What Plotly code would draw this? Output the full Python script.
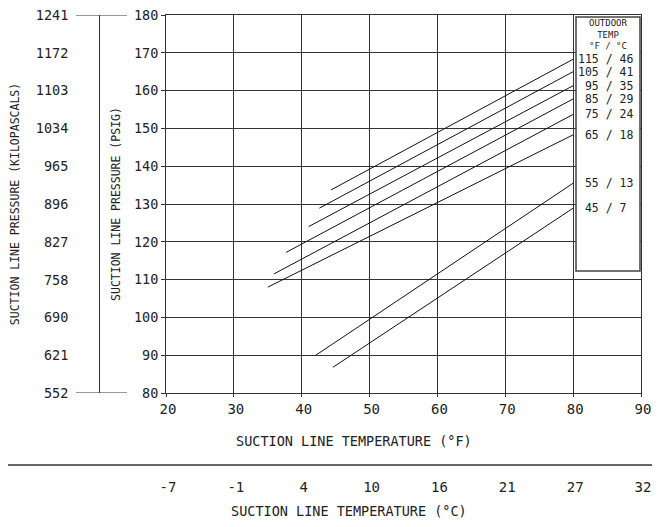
import plotly.graph_objects as go

# ---------------- data ----------------
outdoor_f = [115, 105, 95, 85, 75, 65, 55, 45]
outdoor_c = [46, 41, 35, 29, 24, 18, 13, 7]
start_temp_f = [44.3, 42.6, 41.0, 37.7, 35.9, 35.0, 42.0, 44.6]
start_psig = [133.7, 128.9, 124.0, 117.2, 111.5, 108.0, 89.9, 86.8]
end_temp_f = [80, 80, 80, 80, 80, 80, 80, 80]
end_psig = [168.3, 165.0, 161.3, 157.8, 153.7, 148.3, 135.5, 128.9]

psig_ticks = [80, 90, 100, 110, 120, 130, 140, 150, 160, 170, 180]
kpa_ticks = [552, 621, 690, 758, 827, 896, 965, 1034, 1103, 1172, 1241]
temp_f_ticks = [20, 30, 40, 50, 60, 70, 80, 90]
temp_c_labels = ["-7", "-1", "4", "10", "16", "21", "27", "32"]

PSI_TO_KPA = 6.89476

# ---------------- style ----------------
FONT = "DejaVu Sans Mono"
INK = "#222222"
GRID = "#333333"
OFF = 8  # page body margin
W, H = 660 - OFF, 527 - 2 * OFF


def px_x(p):
    """screen x pixel -> paper fraction"""
    return (p - OFF) / W


def px_y(p):
    """screen y pixel -> paper fraction"""
    return 1 - (p - OFF) / H


psig_range = [psig_ticks[0], psig_ticks[-1]]
kpa_range = [psig_range[0] * PSI_TO_KPA, psig_range[1] * PSI_TO_KPA]
f_range = [temp_f_ticks[0], temp_f_ticks[-1]]

fig = go.Figure()
for i in range(len(outdoor_f)):
    fig.add_trace(go.Scatter(
        x=[start_temp_f[i], end_temp_f[i]],
        y=[start_psig[i], end_psig[i]],
        mode="lines",
        line=dict(color="#111111", width=1),
        showlegend=False,
        hoverinfo="skip",
    ))

# invisible carriers so the secondary (kPa / deg C) scales are drawn
fig.add_trace(go.Scatter(x=[f_range[0], f_range[0]], y=kpa_range,
                         xaxis="x", yaxis="y2", mode="lines",
                         line=dict(width=0), opacity=0,
                         showlegend=False, hoverinfo="skip"))
fig.add_trace(go.Scatter(x=f_range, y=[psig_range[0], psig_range[0]],
                         xaxis="x2", yaxis="y", mode="lines",
                         line=dict(width=0), opacity=0,
                         showlegend=False, hoverinfo="skip"))

fig.update_layout(
    width=W, height=H,
    margin=dict(l=0, r=0, t=0, b=0, autoexpand=False),
    paper_bgcolor="white", plot_bgcolor="white",
    font=dict(family=FONT, color=INK),
    showlegend=False,
    xaxis=dict(
        domain=[px_x(166), px_x(641)],
        range=f_range,
        tickvals=temp_f_ticks,
        showgrid=True, gridcolor=GRID, gridwidth=1,
        showline=True, mirror=True, linecolor=GRID, linewidth=1,
        ticks="outside", ticklen=3, tickcolor=GRID,
        tickfont=dict(size=14, family=FONT, color=INK),
        ticklabelshift=2, ticklabeloverflow="allow",
        zeroline=False, fixedrange=True,
    ),
    xaxis2=dict(
        overlaying="x", anchor="free", position=px_y(465), side="bottom",
        range=f_range,
        tickvals=temp_f_ticks, ticktext=temp_c_labels,
        showgrid=False, showline=False, ticks="", zeroline=False,
        tickfont=dict(size=14, family=FONT, color=INK),
        ticklabelstandoff=12, ticklabelshift=2, ticklabeloverflow="allow",
        fixedrange=True,
    ),
    yaxis=dict(
        domain=[px_y(393), px_y(15)],
        range=psig_range,
        tickvals=psig_ticks,
        showgrid=True, gridcolor=GRID, gridwidth=1,
        showline=True, mirror=True, linecolor=GRID, linewidth=1,
        ticks="outside", ticklen=4, tickcolor=GRID,
        tickfont=dict(size=13.5, family=FONT, color=INK),
        ticklabeloverflow="allow",
        title=dict(text="SUCTION LINE PRESSURE (PSIG)",
                   font=dict(size=11.5, family=FONT, color=INK), standoff=10),
        zeroline=False, fixedrange=True,
    ),
    yaxis2=dict(
        overlaying="y", anchor="free", position=px_x(99), side="left",
        range=kpa_range, tickvals=kpa_ticks,
        showgrid=False, showline=True, linecolor=GRID, linewidth=1,
        ticks="", zeroline=False,
        tickfont=dict(size=13.5, family=FONT, color=INK),
        ticklabelstandoff=28, ticklabeloverflow="allow",
        title=dict(text="SUCTION LINE PRESSURE (KILOPASCALS)",
                   font=dict(size=11.5, family=FONT, color=INK), standoff=12),
        fixedrange=True,
    ),
)

shapes = [
    # separator line above the Celsius scale
    dict(type="line", xref="paper", yref="paper", x0=px_x(0), x1=1,
         y0=px_y(465), y1=px_y(465), line=dict(color=GRID, width=1.3)),
    # kPa scale end caps
    dict(type="line", xref="paper", yref="y", x0=px_x(76), x1=px_x(127),
         y0=psig_range[1], y1=psig_range[1], line=dict(color=GRID, width=1)),
    dict(type="line", xref="paper", yref="y", x0=px_x(76), x1=px_x(127),
         y0=psig_range[0], y1=psig_range[0], line=dict(color=GRID, width=1)),
    # legend box
    dict(type="rect", xref="paper", yref="paper", x0=px_x(576), x1=px_x(640),
         y0=px_y(271), y1=px_y(17), fillcolor="white",
         line=dict(color="#444444", width=1.5), layer="above"),
]
fig.update_layout(shapes=shapes)

NB = "\u00a0"
annotations = [dict(
    text="OUTDOOR<br>TEMP<br>" + "°F / °C".replace(" ", NB),
    xref="paper", yref="paper", x=px_x(608), y=px_y(34),
    xanchor="center", yanchor="middle", align="center",
    showarrow=False, borderpad=0,
    font=dict(size=9, family=FONT, color=INK))]

for f, c, yv in zip(outdoor_f, outdoor_c, end_psig):
    label = f"{f:>3} / {c:<2}".replace(" ", NB)
    annotations.append(dict(
        text=label, xref="x", yref="y", x=end_temp_f[0], y=yv,
        xanchor="left", yanchor="middle", xshift=4, borderpad=0,
        showarrow=False, font=dict(size=11.5, family=FONT, color=INK)))

annotations.append(dict(
    text="SUCTION LINE TEMPERATURE (°F)", xref="paper", yref="paper",
    x=px_x(354), y=px_y(441), xanchor="center", yanchor="middle",
    showarrow=False, font=dict(size=13.5, family=FONT, color=INK)))
annotations.append(dict(
    text="SUCTION LINE TEMPERATURE (°C)", xref="paper", yref="paper",
    x=px_x(349), y=px_y(511), xanchor="center", yanchor="middle",
    showarrow=False, font=dict(size=13.5, family=FONT, color=INK)))

fig.update_layout(annotations=annotations)

fig.write_html("out.html")
